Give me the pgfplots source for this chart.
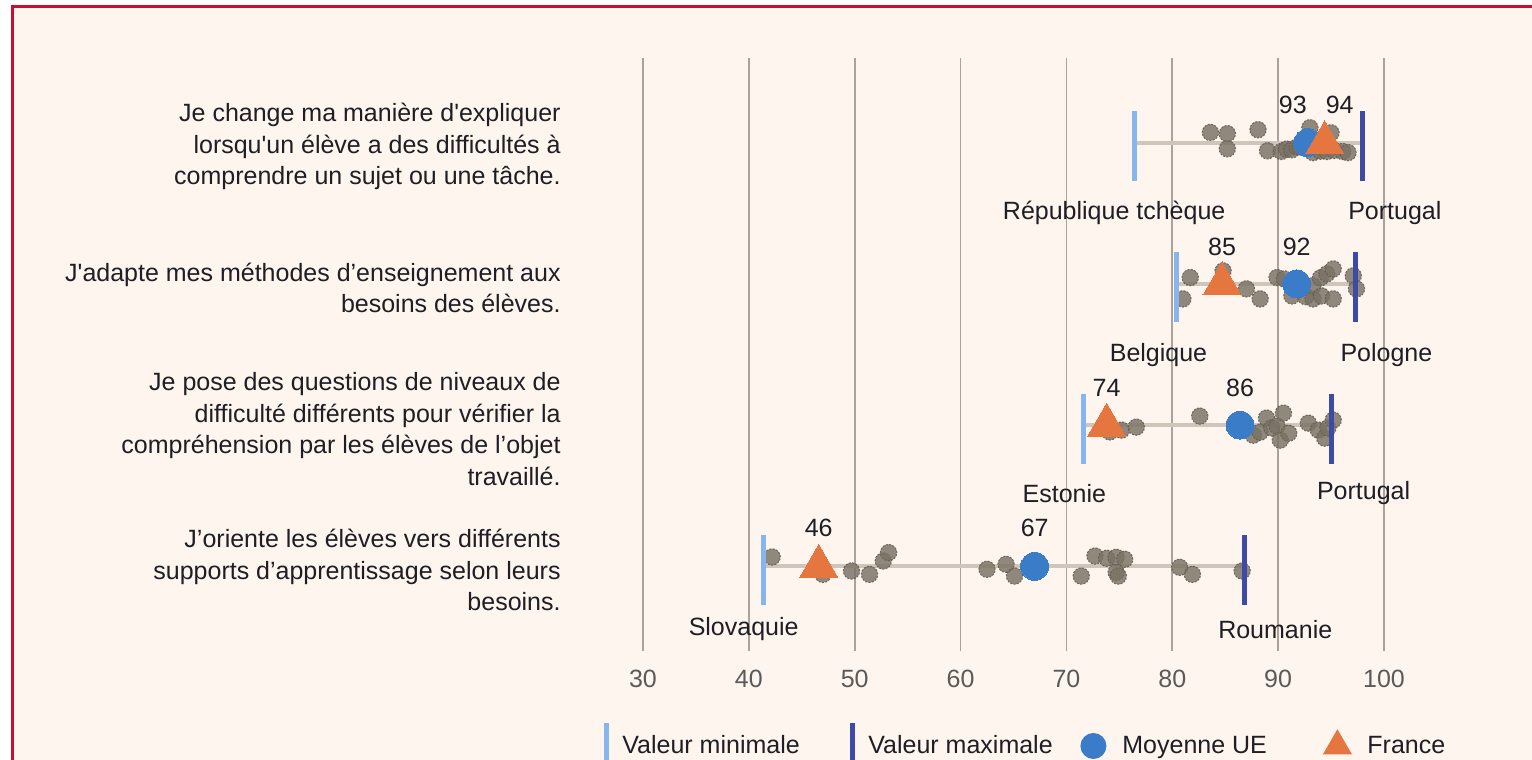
\documentclass[border=0pt]{standalone}
\usepackage{pgfplots}
\pgfplotsset{compat=1.18}
\usepackage{fontspec}
\setmainfont{Liberation Sans}
\definecolor{bgc}{HTML}{FDF5EE}
\definecolor{framec}{HTML}{C8102E}
\definecolor{gridc}{HTML}{ABA399}
\definecolor{whisk}{HTML}{CFC6BB}
\definecolor{dotc}{HTML}{7A7165}
\definecolor{dotd}{HTML}{655D53}
\definecolor{minc}{HTML}{86B6EC}
\definecolor{maxc}{HTML}{3D4BA6}
\definecolor{meanc}{HTML}{3B7CC9}
\definecolor{frc}{HTML}{E5763F}
\definecolor{txt}{HTML}{1E1E24}
\definecolor{tickc}{HTML}{5A5A5A}

\pgfplotstableread{
x y
83.6 4.073
85.2 4.064
85.2 3.957
88.1 4.092
89.0 3.943
90.3 3.938
90.8 3.955
91.3 3.950
91.8 3.970
92.1 3.970
93.0 4.106
93.3 3.930
94.0 3.940
94.6 3.938
95.0 4.070
95.3 3.945
96.1 3.938
96.6 3.930
}\rowone
\pgfplotstableread{
x y
81.7 3.045
81.0 2.894
84.8 3.092
87.0 2.965
88.3 2.894
89.9 3.045
90.6 3.035
91.3 2.915
92.6 2.910
93.3 2.894
93.3 2.986
94.0 3.043
94.6 3.071
95.2 3.106
94.1 2.915
95.2 2.894
97.1 3.057
97.4 2.965
}\rowtwo
\pgfplotstableread{
x y
74.1 1.952
75.2 1.965
76.6 1.986
82.6 2.064
87.65 1.929
88.3 1.950
88.9 2.050
89.4 1.980
89.9 1.993
90.2 1.894
90.5 2.085
91.0 1.943
92.85 2.014
93.8 1.965
94.4 1.908
94.7 1.980
95.2 2.035
}\rowthree
\pgfplotstableread{
x y
42.2 1.066
47.0 0.943
49.7 0.967
51.4 0.943
52.7 1.038
53.2 1.097
62.5 0.979
64.3 1.014
65.1 0.931
71.4 0.931
72.7 1.073
73.8 1.057
74.7 1.064
75.5 1.050
74.7 0.957
74.9 0.931
80.7 0.993
81.9 0.943
86.6 0.967
}\rowfour

\begin{document}
\begin{tikzpicture}
\useasboundingbox (0pt,0pt) rectangle (766pt,380pt);
\clip (0pt,0pt) rectangle (766pt,380pt);
\fill[white] (0pt,0pt) rectangle (766pt,380pt);
\fill[bgc] (6pt,0pt) rectangle (766pt,376.5pt);
\draw[framec, line width=1.5pt] (6pt,-2pt) -- (6pt,376.5pt) -- (770pt,376.5pt);
\begin{axis}[
  at={(321.5pt,54.5pt)}, anchor=south west,
  scale only axis, width=370.5pt, height=296.5pt,
  xmin=30, xmax=100, ymin=0.4, ymax=4.6,
  xtick={30,40,...,100},
  ytick={1,2,3,4},
  yticklabels={
    {J’oriente les élèves vers différents\\supports d’apprentissage selon leurs\\besoins.},
    {Je pose des questions de niveaux de\\difficulté différents pour vérifier la\\compréhension par les élèves de l’objet\\travaillé.},
    {J\textquotesingle adapte mes méthodes d’enseignement aux\\besoins des élèves.},
    {Je change ma manière d\textquotesingle expliquer\\lorsqu\textquotesingle un élève a des difficultés à\\comprendre un sujet ou une tâche.}
  },
  yticklabel style={align=right, font=\fontsize{12.5}{15.75}\selectfont, text=txt, inner sep=0pt, xshift=-41pt, yshift=-2pt},
  xticklabel style={font=\fontsize{12.5}{14}\selectfont, text=tickc, yshift=-6pt},
  /pgf/number format/assume math mode=true,
  xmajorgrids, grid style={gridc, line width=0.9pt},
  axis line style={draw=none},
  major tick length=0pt,
  clip=false,
  legend columns=4,
  legend style={at={(-0.058,-0.1602)}, anchor=west, draw=none, fill=none,
    inner xsep=0pt, inner ysep=0pt,
    nodes={inner sep=0pt, font=\fontsize{12.5}{14}\selectfont, text=txt},
    cells={anchor=west}},
]
\addlegendimage{legend image code/.code={\draw[overlay, minc, line width=2.5pt] (0pt,-16pt) -- (0pt,11.5pt); \path[draw=none, fill=none] (-3pt,-6pt) rectangle (8pt,6pt);}}
\addlegendentry{\makebox[112pt][l]{Valeur minimale}}
\addlegendimage{legend image code/.code={\draw[overlay, maxc, line width=2.5pt] (0pt,-16pt) -- (0pt,11.5pt); \path[draw=none, fill=none] (-3pt,-6pt) rectangle (8pt,6pt);}}
\addlegendentry{\makebox[107.5pt][l]{Valeur maximale}}
\addlegendimage{legend image code/.code={\fill[overlay, meanc, draw=none] (0pt,0pt) circle (6.5pt); \path[draw=none, fill=none] (-5pt,-6pt) rectangle (14.5pt,6pt);}}
\addlegendentry{\makebox[98.5pt][l]{Moyenne UE}}
\addlegendimage{legend image code/.code={\fill[overlay, frc, draw=none] (0pt,8.4pt) -- (-7.3pt,-4.2pt) -- (7.3pt,-4.2pt) -- cycle; \path[draw=none, fill=none] (-9pt,-6pt) rectangle (15pt,6pt);}}
\addlegendentry{France}

% whiskers
\addplot[forget plot, whisk, line width=2pt, no marks] coordinates {(76.4,4) (98.0,4)};
\addplot[forget plot, whisk, line width=2pt, no marks] coordinates {(80.4,3) (97.3,3)};
\addplot[forget plot, whisk, line width=2pt, no marks] coordinates {(71.6,2) (95.05,2)};
\addplot[forget plot, whisk, line width=2pt, no marks] coordinates {(41.4,1) (86.8,1)};

% country dots
\pgfplotsset{dotstyle/.style={forget plot, only marks, mark=*, mark size=4.1pt, color=dotd,
   mark options={fill=dotc, fill opacity=0.82, draw=dotd, draw opacity=0.9, line width=0.5pt, dash pattern=on 1pt off 0.7pt}}}
\addplot[dotstyle] table[x=x,y=y] {\rowone};
\addplot[dotstyle] table[x=x,y=y] {\rowtwo};
\addplot[dotstyle] table[x=x,y=y] {\rowthree};
\addplot[dotstyle] table[x=x,y=y] {\rowfour};

% min / max bars
\addplot[forget plot, only marks, color=minc, mark=|, mark size=17.5pt, mark options={draw=minc, line width=2.5pt, yshift=-1.75pt}]
  coordinates {(76.4,4) (80.4,3) (71.6,2) (41.4,1)};
\addplot[forget plot, only marks, color=maxc, mark=|, mark size=17.5pt, mark options={draw=maxc, line width=2.5pt, yshift=-1.75pt}]
  coordinates {(98.0,4) (97.3,3) (95.05,2) (86.8,1)};

% EU mean
\addplot[forget plot, only marks, color=meanc, mark=*, mark size=7pt, mark options={fill=meanc, draw=meanc, line width=0pt}]
  coordinates {(92.8,4) (91.75,3) (86.4,2) (67.0,1)};
% France
\addplot[forget plot, only marks, color=frc, mark=triangle*, mark size=11pt, mark options={fill=frc, draw=frc, line width=0pt}]
  coordinates {(94.4,4) (84.7,3) (73.8,2) (46.6,1)};

% value labels
\tikzset{lab/.style={font=\fontsize{12.5}{14}\selectfont, text=txt, inner sep=0pt}}
\node[lab, xshift=-7.5pt, yshift=19pt] at (axis cs:92.8,4) {93};
\node[lab, xshift=7.5pt, yshift=19pt] at (axis cs:94.4,4) {94};
\node[lab, yshift=18.5pt] at (axis cs:84.7,3) {85};
\node[lab, yshift=18.5pt] at (axis cs:91.75,3) {92};
\node[lab, yshift=18.5pt] at (axis cs:73.8,2) {74};
\node[lab, yshift=18.5pt] at (axis cs:86.4,2) {86};
\node[lab, yshift=19pt] at (axis cs:46.6,1) {46};
\node[lab, yshift=19pt] at (axis cs:67.0,1) {67};

% country labels
\node[lab, xshift=-10pt, yshift=-35pt] at (axis cs:76.4,4) {République tchèque};
\node[lab, xshift=16pt, yshift=-35pt] at (axis cs:98.0,4) {Portugal};
\node[lab, xshift=-9pt, yshift=-35.5pt] at (axis cs:80.4,3) {Belgique};
\node[lab, xshift=15.5pt, yshift=-35.5pt] at (axis cs:97.3,3) {Pologne};
\node[lab, xshift=-9.5pt, yshift=-34pt] at (axis cs:71.6,2) {Estonie};
\node[lab, xshift=16pt, yshift=-34pt] at (axis cs:95.05,2) {Portugal};
\node[lab, xshift=-10pt, yshift=-31.5pt] at (axis cs:41.4,1) {Slovaquie};
\node[lab, xshift=15.5pt, yshift=-31.5pt] at (axis cs:86.8,1) {Roumanie};
\end{axis}
\end{tikzpicture}
\end{document}
